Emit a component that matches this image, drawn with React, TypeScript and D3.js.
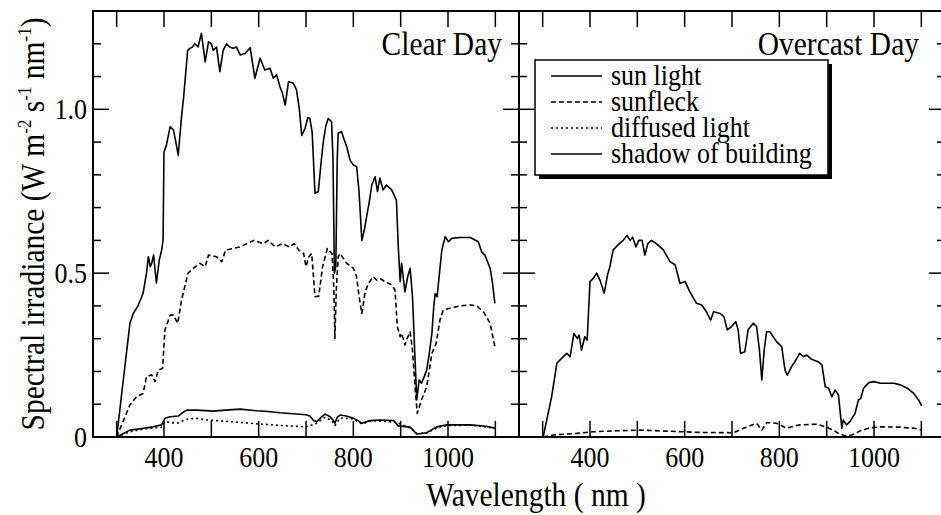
import React from 'react';
import * as d3 from 'd3';

type P = [number, number];

const clearSunLight: P[] = [
  [300,0],[328,0.347],[335,0.377],[345,0.40],[353,0.428],[356,0.44],[363,0.50],[367,0.55],[371,0.52],[374,0.53],[378,0.555],[384,0.47],[390,0.54],[395,0.57],[398,0.60],[400,0.87],[405,0.89],[413,0.947],[420,0.937],[425,0.90],[430,0.86],[437,0.977],[441,1.03],[450,1.18],[455,1.186],[460,1.19],[465,1.2],[472,1.19],[479,1.232],[487,1.145],[494,1.206],[500,1.2],[504,1.18],[511,1.19],[518,1.115],[525,1.18],[532,1.2],[539,1.19],[546,1.186],[553,1.19],[561,1.166],[571,1.17],[582,1.188],[592,1.095],[603,1.156],[613,1.12],[624,1.125],[631,1.095],[638,1.105],[645,1.069],[650,1.05],[656,1.013],[663,1.084],[673,1.08],[680,1.059],[686,1.0],[691,0.92],[698,0.942],[704,0.975],[708,0.973],[713,0.93],[719,0.744],[726,0.749],[732,0.84],[737,0.906],[742,0.95],[747,0.972],[754,0.962],[757,0.85],[760,0.5],[763,0.52],[766,0.85],[768,0.927],[775,0.932],[780,0.91],[786,0.886],[793,0.845],[800,0.83],[807,0.825],[812,0.75],[818,0.6],[823,0.63],[828,0.672],[834,0.72],[839,0.769],[846,0.794],[851,0.749],[856,0.79],[863,0.754],[870,0.769],[881,0.754],[891,0.723],[895,0.58],[899,0.474],[902,0.53],[909,0.443],[915,0.49],[920,0.515],[925,0.428],[930,0.25],[934,0.113],[939,0.174],[944,0.164],[950,0.185],[955,0.204],[960,0.25],[966,0.316],[970,0.40],[973,0.438],[977,0.428],[982,0.50],[987,0.571],[994,0.611],[1001,0.596],[1008,0.606],[1025,0.609],[1047,0.609],[1064,0.596],[1071,0.565],[1078,0.555],[1089,0.515],[1094,0.47],[1099,0.408]
];

const clearSunfleck: P[] = [
  [300,0],[328,0.098],[342,0.123],[356,0.133],[363,0.184],[374,0.19],[381,0.169],[388,0.204],[397,0.21],[402,0.327],[413,0.372],[420,0.372],[429,0.347],[437,0.418],[451,0.5],[462,0.515],[476,0.53],[487,0.52],[494,0.555],[511,0.55],[522,0.535],[530,0.57],[545,0.575],[560,0.58],[575,0.59],[590,0.60],[600,0.595],[610,0.59],[620,0.60],[635,0.58],[650,0.59],[665,0.58],[675,0.59],[685,0.57],[695,0.56],[700,0.52],[706,0.55],[712,0.56],[719,0.428],[727,0.43],[735,0.52],[745,0.575],[755,0.56],[759,0.45],[761,0.301],[764,0.45],[768,0.55],[772,0.56],[786,0.53],[800,0.515],[807,0.489],[812,0.43],[818,0.377],[825,0.443],[832,0.469],[842,0.489],[849,0.479],[856,0.484],[867,0.474],[881,0.464],[888,0.449],[893,0.337],[899,0.306],[902,0.316],[909,0.281],[915,0.305],[920,0.321],[925,0.265],[930,0.16],[935,0.072],[944,0.113],[955,0.153],[966,0.255],[975,0.286],[983,0.357],[990,0.388],[1004,0.393],[1025,0.4],[1047,0.403],[1061,0.4],[1075,0.382],[1089,0.347],[1099,0.276]
];

const clearDiffused: P[] = [
  [300,0],[328,0.016],[360,0.025],[395,0.03],[402,0.047],[427,0.042],[450,0.055],[470,0.057],[490,0.052],[540,0.047],[600,0.04],[660,0.034],[700,0.031],[720,0.04],[740,0.06],[755,0.05],[761,0.035],[772,0.058],[800,0.055],[818,0.04],[840,0.05],[890,0.045],[920,0.028],[935,0.01],[955,0.012],[980,0.03],[1000,0.035],[1050,0.036],[1100,0.027]
];

const clearShadow: P[] = [
  [300,0],[328,0.021],[353,0.026],[377,0.031],[395,0.037],[402,0.057],[413,0.062],[430,0.064],[440,0.075],[448,0.082],[470,0.082],[504,0.079],[530,0.082],[561,0.085],[596,0.08],[620,0.078],[645,0.074],[680,0.07],[700,0.068],[708,0.064],[716,0.05],[723,0.047],[732,0.06],[740,0.07],[751,0.062],[758,0.05],[761,0.042],[766,0.06],[772,0.067],[785,0.064],[800,0.057],[810,0.05],[818,0.042],[835,0.05],[856,0.052],[885,0.05],[895,0.034],[920,0.03],[934,0.009],[955,0.013],[976,0.031],[997,0.037],[1047,0.037],[1080,0.033],[1099,0.027]
];

const overcastSunLight: P[] = [
  [301,0],[319,0.123],[330,0.225],[340,0.24],[351,0.255],[358,0.245],[366,0.316],[373,0.301],[377,0.311],[382,0.265],[389,0.306],[394,0.296],[400,0.474],[407,0.484],[414,0.5],[421,0.479],[430,0.439],[437,0.494],[442,0.52],[449,0.571],[455,0.58],[462,0.59],[470,0.60],[478,0.615],[485,0.60],[490,0.61],[497,0.58],[503,0.6],[510,0.60],[516,0.555],[522,0.59],[530,0.6],[540,0.59],[548,0.58],[555,0.571],[569,0.535],[580,0.525],[590,0.469],[601,0.474],[611,0.443],[625,0.408],[636,0.403],[646,0.382],[655,0.357],[661,0.382],[675,0.377],[683,0.367],[690,0.327],[699,0.337],[708,0.352],[713,0.327],[718,0.255],[727,0.26],[734,0.327],[745,0.347],[752,0.337],[758,0.265],[763,0.174],[768,0.265],[773,0.321],[780,0.321],[794,0.291],[805,0.276],[812,0.204],[817,0.189],[826,0.215],[833,0.23],[843,0.255],[851,0.245],[858,0.25],[868,0.237],[882,0.23],[890,0.22],[897,0.153],[904,0.149],[911,0.123],[918,0.143],[925,0.128],[932,0.026],[935,0.052],[942,0.037],[949,0.047],[960,0.072],[967,0.113],[972,0.118],[978,0.149],[989,0.166],[1000,0.169],[1014,0.164],[1042,0.164],[1056,0.159],[1070,0.149],[1084,0.133],[1094,0.113],[1101,0.095]
];

const overcastSunfleck: P[] = [
  [301,0],[322,0.006],[372,0.011],[407,0.016],[456,0.019],[506,0.021],[562,0.018],[632,0.014],[703,0.013],[731,0.031],[752,0.042],[763,0.021],[773,0.044],[794,0.042],[815,0.027],[843,0.037],[879,0.039],[897,0.031],[914,0.021],[925,0.011],[939,0.004],[953,0.006],[970,0.018],[991,0.028],[1014,0.031],[1056,0.03],[1088,0.026],[1101,0.021]
];

const xTickValues = [300, 400, 500, 600, 700, 800, 900, 1000, 1100];
const xTickLabels = [400, 600, 800, 1000];
const yTickValues = [0, 0.1, 0.2, 0.3, 0.4, 0.5, 0.6, 0.7, 0.8, 0.9, 1.0, 1.1, 1.2];
const yTickLabels = ['0', '0.5', '1.0'];
const legendLabels = ['sun light', 'sunfleck', 'diffused light', 'shadow of building'];
const legendDash = ['none', '5,3', '2,3', 'none'];
const panelTitles = ['Clear Day', 'Overcast Day'];

const FONT = "'Liberation Serif'";
const TOP = 11, BOTTOM = 437, X0 = 93, XM = 519, X1 = 945;
const MAJ = 16, MIN = 8;
const SY = 1.12; // glyph height stretch

export default function App() {
  const y = d3.scaleLinear().domain([0, 1.3]).range([BOTTOM, TOP]);
  const xL = d3.scaleLinear().domain([250, 1150]).range([X0, XM]);
  const xR = d3.scaleLinear().domain([250, 1150]).range([XM, X1]);
  const mk = (xs: d3.ScaleLinear<number, number>) =>
    d3.line<P>().x(d => xs(d[0])).y(d => y(d[1]));
  const lineL = mk(xL), lineR = mk(xR);

  const isMajor = (v: number) => Math.abs(v * 2 - Math.round(v * 2)) < 1e-6;

  const series = [
    { d: lineL(clearSunLight), dash: 'none' },
    { d: lineL(clearSunfleck), dash: legendDash[1] },
    { d: lineL(clearDiffused), dash: legendDash[2] },
    { d: lineL(clearShadow), dash: 'none' },
    { d: lineR(overcastSunLight), dash: 'none' },
    { d: lineR(overcastSunfleck), dash: legendDash[1] },
  ];

  const lgX = 535, lgY = 60, lgW = 293, lgH = 115;
  const ts: React.CSSProperties = { fontFamily: FONT };

  const T = (p: { x: number; y: number; size: number; anchor?: string; children: React.ReactNode }) => (
    <text transform={`translate(${p.x},${p.y}) scale(1,${SY})`} fontSize={p.size}
      textAnchor={p.anchor || 'start'} style={ts}>{p.children}</text>
  );

  return (
    <svg width={941} height={515} style={{ position: 'absolute', left: 0, top: 0, background: '#fff' }}>
      <rect x={0} y={0} width={941} height={515} fill="#fff" />
      <defs>
        <clipPath id="cl"><rect x={X0} y={TOP - 5} width={XM - X0} height={BOTTOM - TOP + 5} /></clipPath>
        <clipPath id="cr"><rect x={XM} y={TOP - 5} width={X1 - XM} height={BOTTOM - TOP + 5} /></clipPath>
      </defs>

      {series.map((s, i) => (
        <path key={i} d={s.d || ''} fill="none" stroke="#000" strokeWidth={1.6}
          strokeDasharray={s.dash === 'none' ? undefined : s.dash}
          strokeLinejoin="round" clipPath={i < 4 ? 'url(#cl)' : 'url(#cr)'} />
      ))}

      {[xL, xR].map((xs, pi) => (
        <g key={pi} stroke="#000" strokeWidth={1.5}>
          {xTickValues.map(v => (
            <g key={v}>
              <line x1={xs(v)} x2={xs(v)} y1={BOTTOM} y2={BOTTOM - MAJ} />
              <line x1={xs(v)} x2={xs(v)} y1={TOP} y2={TOP + MAJ} />
            </g>
          ))}
        </g>
      ))}
      <g stroke="#000" strokeWidth={1.5}>
        {yTickValues.map(v => {
          const L = isMajor(v) ? MAJ : MIN;
          return (
            <g key={v}>
              <line x1={X0} x2={X0 + L} y1={y(v)} y2={y(v)} />
              <line x1={XM - L} x2={XM + L} y1={y(v)} y2={y(v)} />
              <line x1={X1 - L} x2={X1} y1={y(v)} y2={y(v)} />
            </g>
          );
        })}
      </g>
      <g stroke="#000" strokeWidth={2} fill="none">
        <rect x={X0} y={TOP} width={X1 - X0} height={BOTTOM - TOP} />
        <line x1={XM} x2={XM} y1={TOP} y2={BOTTOM} />
      </g>

      {[xL, xR].map((xs, pi) => (
        <g key={pi}>
          {xTickLabels.map(v => (
            <T key={v} x={xs(v)} y={467} size={26} anchor="middle">{v}</T>
          ))}
        </g>
      ))}
      {yTickLabels.map(t => (
        <T key={t} x={87} y={y(+t) + 10} size={26} anchor="end">{t}</T>
      ))}

      <T x={502} y={55} size={29.5} anchor="end">{panelTitles[0]}</T>
      <T x={919} y={55} size={29.5} anchor="end">{panelTitles[1]}</T>

      <T x={536} y={506} size={29.5} anchor="middle">Wavelength ( nm )</T>
      <text transform={`translate(44,224) rotate(-90) scale(1,${SY})`} fontSize={29.5} textAnchor="middle" style={ts}>
        Spectral irradiance (W m<tspan fontSize={17} dy={-12}>-2</tspan>
        <tspan dy={12}> s</tspan><tspan fontSize={17} dy={-12}>-1</tspan>
        <tspan dy={12}> nm</tspan><tspan fontSize={17} dy={-12}>-1</tspan>
        <tspan dy={12}>)</tspan>
      </text>

      <rect x={lgX + 4} y={lgY + 4} width={lgW} height={lgH} fill="#000" />
      <rect x={lgX} y={lgY} width={lgW} height={lgH} fill="#fff" stroke="#000" strokeWidth={1.5} />
      {legendLabels.map((lab, i) => {
        const cy = 76 + i * 26;
        return (
          <g key={lab}>
            <line x1={551} x2={602} y1={cy} y2={cy} stroke="#000" strokeWidth={1.7}
              strokeDasharray={legendDash[i] === 'none' ? undefined : legendDash[i]} />
            <T x={611} y={cy + 9} size={26}>{lab}</T>
          </g>
        );
      })}
    </svg>
  );
}
